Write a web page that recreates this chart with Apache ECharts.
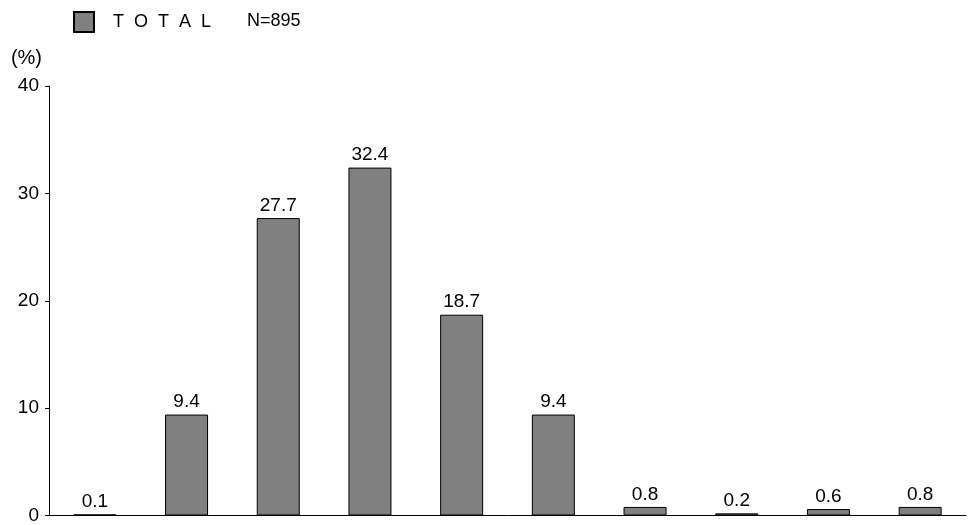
<!DOCTYPE html>
<html><head><meta charset="utf-8">
<script src="https://cdn.jsdelivr.net/npm/echarts@6/dist/echarts.min.js"></script>
<style>html,body{margin:0;padding:0;background:#fff}#c{width:972px;height:525px}</style>
</head><body><div id="c"></div>
<script>
const categories = ['1','2','3','4','5','6','7','8','9','10'];
const totalValues = [0.1, 9.4, 27.7, 32.4, 18.7, 9.4, 0.8, 0.2, 0.6, 0.8];
const yTicks = [0, 10, 20, 30, 40];
const seriesName = 'T  O  T  A  L';
const sampleNote = 'N=895';
const unitLabel = '(%)';

const chart = echarts.init(document.getElementById('c'));
const font = '"Liberation Sans", Arial, sans-serif';
chart.setOption({
  animation: false,
  textStyle: { fontFamily: font },
  grid: { left: 49, right: 6, top: 86, bottom: 5, containLabel: false },
  legend: {
    left: 73, top: 11, padding: 0, itemWidth: 20, itemHeight: 20, icon: 'rect',
    data: [seriesName],
    textStyle: { fontSize: 18, color: '#000', fontFamily: font, padding: [0, 0, 0, 14] }
  },
  graphic: [{
    type: 'text', left: 247, top: 12,
    style: { text: sampleNote, fontSize: 18, fill: '#000', fontFamily: font }
  }],
  xAxis: {
    type: 'category', data: categories,
    axisLine: { lineStyle: { color: '#000', width: 1 } },
    axisTick: { show: false }, axisLabel: { show: false }
  },
  yAxis: {
    type: 'value', min: yTicks[0], max: yTicks[yTicks.length - 1], interval: 10,
    name: unitLabel, nameLocation: 'end', nameGap: 18,
    nameTextStyle: { color: '#000', fontSize: 20, align: 'right', padding: [0, 7, 0, 0], fontFamily: font },
    axisLine: { show: true, lineStyle: { color: '#000', width: 1 } },
    axisTick: { show: true, length: 4, lineStyle: { color: '#000' } },
    axisLabel: { color: '#000', fontSize: 19, margin: 10, fontFamily: font },
    splitLine: { show: false }
  },
  series: [{
    name: seriesName, type: 'bar', data: totalValues, barWidth: 43,
    itemStyle: { color: '#808080', borderColor: '#000', borderWidth: 1 },
    label: { show: true, position: 'top', distance: 3, color: '#000', fontSize: 19, fontFamily: font }
  }]
});
</script></body></html>
